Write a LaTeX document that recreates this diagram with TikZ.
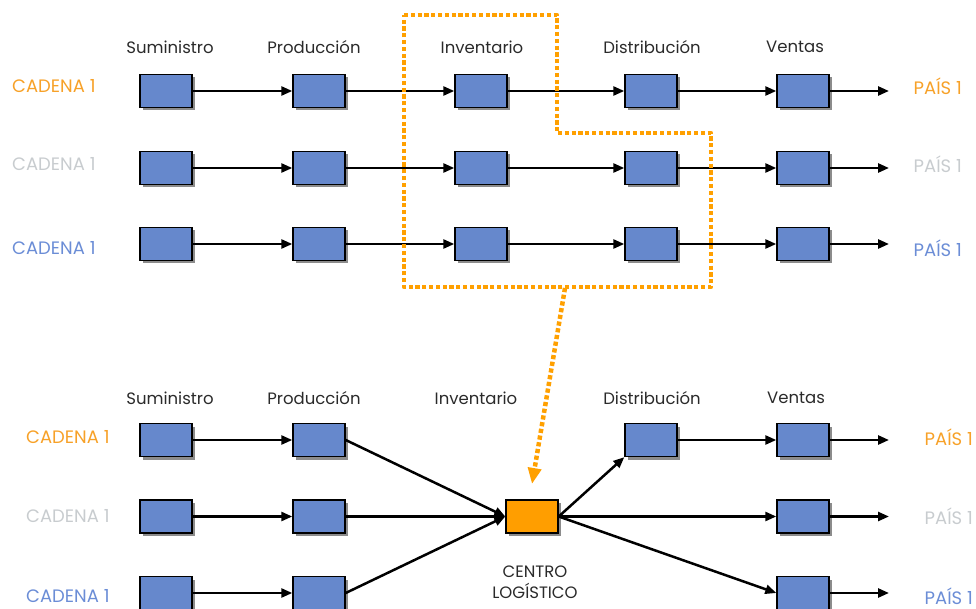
\documentclass[tikz,border=0pt]{standalone}
\usepackage{fontspec}
\setmainfont{Poppins}
\usetikzlibrary{arrows.meta,shadows}
\definecolor{boxblue}{HTML}{6688CC}
\definecolor{boxorange}{HTML}{FF9E00}
\definecolor{txtorange}{HTML}{F7A128}
\definecolor{txtgray}{HTML}{C8CCCF}
\definecolor{txtblue}{HTML}{6B8DD6}
\definecolor{txtdark}{HTML}{2A2A2A}
\definecolor{dotorange}{HTML}{FFA000}
\tikzset{
  pbox/.style={draw=black, line width=1.4pt, fill=boxblue, minimum width=52pt, minimum height=33pt, inner sep=0pt,
    drop shadow={shadow xshift=3pt, shadow yshift=-3pt, fill=black!45, opacity=1}},
  obox/.style={pbox, fill=boxorange},
  flow/.style={line width=2.5pt, -{Triangle[length=11pt,width=9pt]}},
  hdr/.style={font=\fontsize{16.5}{19}\selectfont, text=txtdark, inner sep=0pt},
  lbl/.style={font=\fontsize{18}{21}\selectfont, inner sep=0pt},
  dotline/.style={draw=dotorange, line width=4.5pt, dash pattern=on 4.2pt off 2.6pt, line join=round},
}
\begin{document}
\begin{tikzpicture}[x=1pt,y=-1pt]
\useasboundingbox (0,0) rectangle (976,609);
% ---------- top section ----------
\node[hdr] (th1) at (170,47) {Suministro};
\node[hdr] (th2) at (314,47) {Producción};
\node[hdr] (th3) at (482,47) {Inventario};
\node[hdr] (th4) at (652,47) {Distribución};
\node[hdr] (th5) at (795,47) {Ventas};

\node[lbl, text=txtorange, anchor=west] (tc1) at (12,86) {CADENA 1};
\node[lbl, text=txtgray, anchor=west] (tc2) at (12,164) {CADENA 1};
\node[lbl, text=txtblue, anchor=west] (tc3) at (12,248) {CADENA 1};
\node[lbl, text=txtorange, anchor=east] (tp1) at (962,86) {PAÍS 1};
\node[lbl, text=txtgray, anchor=east] (tp2) at (962,164) {PAÍS 1};
\node[lbl, text=txtblue, anchor=east] (tp3) at (962,248) {PAÍS 1};

\foreach \r/\y in {1/91,2/168,3/244}{
  \node[pbox] (a\r) at (166,\y) {};
  \node[pbox] (b\r) at (319,\y) {};
  \node[pbox] (c\r) at (481,\y) {};
  \node[pbox] (d\r) at (651,\y) {};
  \node[pbox] (e\r) at (803,\y) {};
  \coordinate (f\r) at (889,\y);
  \draw[flow] (a\r) -- (b\r);
  \draw[flow] (b\r) -- (c\r);
  \draw[flow] (c\r) -- (d\r);
  \draw[flow] (d\r) -- (e\r);
  \draw[flow] (e\r) -- (f\r);
}

% dotted selection outline
\coordinate (s1) at (404,15);
\coordinate (s2) at (557,15);
\coordinate (s3) at (557,133);
\coordinate (s4) at (711,133);
\coordinate (s5) at (711,287);
\coordinate (s6) at (404,287);
\draw[dotline] (s1) -- (s2) -- (s3) -- (s4) -- (s5) -- (s6) -- cycle;

% ---------- bottom section ----------
\node[hdr] (bh1) at (170,398) {Suministro};
\node[hdr] (bh2) at (314,398) {Producción};
\node[hdr] (bh3) at (476,398) {Inventario};
\node[hdr] (bh4) at (652,398) {Distribución};
\node[hdr] (bh5) at (796,398) {Ventas};

\node[lbl, text=txtorange, anchor=west] (bc1) at (26,437) {CADENA 1};
\node[lbl, text=txtgray, anchor=west] (bc2) at (26,516) {CADENA 1};
\node[lbl, text=txtblue, anchor=west] (bc3) at (26,596) {CADENA 1};
\node[lbl, text=txtorange, anchor=east] (bp1) at (973,437) {PAÍS 1};
\node[lbl, text=txtgray, anchor=east] (bp2) at (973,516) {PAÍS 1};
\node[lbl, text=txtblue, anchor=east] (bp3) at (973,596) {PAÍS 1};

\node[obox] (cl) at (532,516.5) {};
\node[lbl, text=txtdark, align=center, font=\fontsize{16.5}{21}\selectfont] (cltxt) at (535,582) {CENTRO\\LOGÍSTICO};

\foreach \r/\y in {1/440,2/516.5,3/593}{
  \node[pbox] (ba\r) at (166,\y) {};
  \node[pbox] (bb\r) at (319,\y) {};
  \node[pbox] (be\r) at (803,\y) {};
  \coordinate (bf\r) at (889,\y);
  \draw[flow] (ba\r) -- (bb\r);
  \draw[flow] (bb\r.east) -- (cl.west);
  \draw[flow] (be\r) -- (bf\r);
}
\node[pbox] (bd1) at (651,440) {};
\draw[flow] (cl.east) -- (bd1.south west);
\draw[flow] (bd1) -- (be1);
\draw[flow] (cl.east) -- (be2.west);
\draw[flow] (cl.east) -- (be3.west);

% dotted arrow to logistics centre
\coordinate (ds) at (565,288);
\coordinate (dt) at (532,484);
\draw[dotline, -{Triangle[length=16pt,width=13pt,fill=dotorange]}] (ds) -- (dt);
\end{tikzpicture}
\end{document}
